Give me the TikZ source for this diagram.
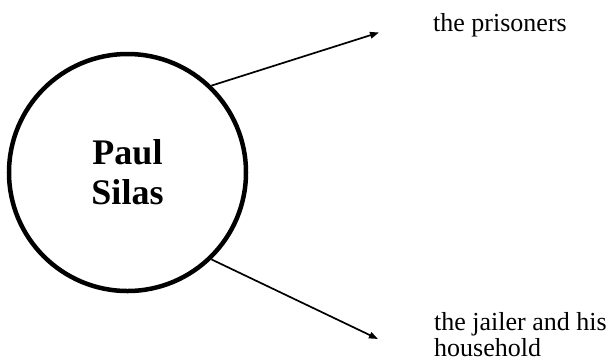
\documentclass[tikz,border=0pt]{standalone}
\usepackage{fontspec}
\setmainfont{Liberation Serif}
\usetikzlibrary{arrows.meta}
\tikzset{
  hub/.style={circle,draw,line width=4.5pt,minimum size=237pt,inner sep=0pt,
    font=\bfseries\fontsize{36}{40}\selectfont,align=center},
  link/.style={line width=1.7pt,-{Triangle[length=9pt,width=6.5pt]}},
  label/.style={inner sep=0pt,font=\fontsize{26}{26.5}\selectfont,align=left}
}
\begin{document}
\begin{tikzpicture}[x=1pt,y=-1pt]
\useasboundingbox (0,0) rectangle (611,360);
\node[hub] (c) at (127.5,172.5) {Paul\\Silas};
\coordinate (e1) at (379,32.5);
\coordinate (e2) at (378,339);
\draw[link] (c.46.6) -- (e1);
\draw[link] (c.-46.3) -- (e2);
\node[label,anchor=base west] (t1) at (433,31) {the prisoners};
\node[label,anchor=north west] (t2) at (434,312) {the jailer and his\\household};
\end{tikzpicture}
\end{document}
